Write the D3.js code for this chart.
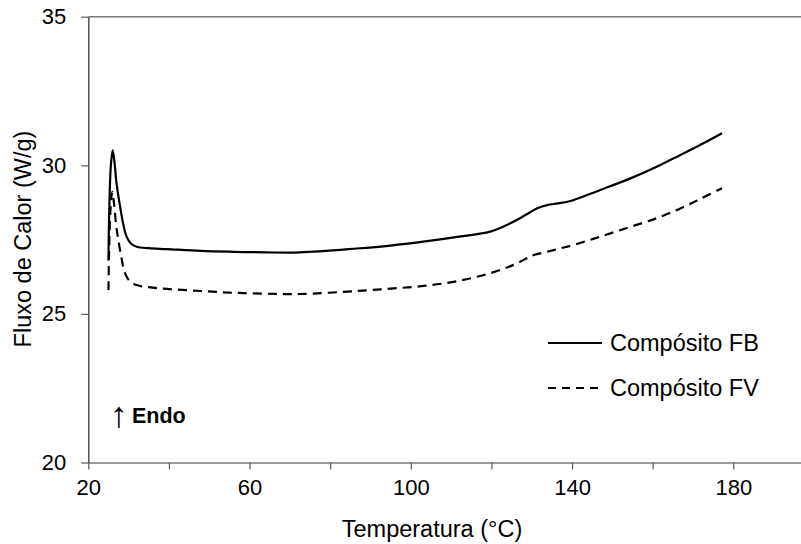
<!DOCTYPE html>
<html>
<head>
<meta charset="utf-8">
<script src="https://cdn.jsdelivr.net/npm/d3@7"></script>
<style>
  html, body { margin: 0; padding: 0; background: #fff; }
  svg { display: block; font-family: "Liberation Sans", Arial, sans-serif; }
</style>
</head>
<body>
<svg id="chart" width="801" height="544"></svg>
<script>
// ---- data ----
const tempFB = [25.0, 25.2, 25.6, 26.05, 26.5, 27.0, 27.9, 28.7, 29.5, 30.5, 32.0, 35, 39.5, 48, 56, 64, 72.5, 86.6, 95, 103.1, 112, 119.7, 124.7, 127.5, 129.6, 131.5, 133.8, 136.5, 139.6, 147, 154.5, 161, 166.9, 172, 177.2];
const fluxFB = [26.8, 28.5, 30.0, 30.5, 30.1, 29.4, 28.6, 28.0, 27.6, 27.38, 27.26, 27.21, 27.18, 27.12, 27.09, 27.07, 27.07, 27.2, 27.3, 27.43, 27.6, 27.77, 28.05, 28.25, 28.42, 28.56, 28.66, 28.72, 28.8, 29.17, 29.56, 29.95, 30.35, 30.7, 31.08];
const tempFV = [25.0, 25.15, 25.5, 25.96, 26.4, 26.9, 27.45, 28.2, 29.1, 30.3, 32.0, 35, 39.5, 48, 56, 64, 72.5, 86.6, 95, 103.1, 111.4, 119.7, 125.5, 128.8, 130.5, 133.8, 137, 140.4, 147, 154.5, 161, 166.9, 172, 177.2];
const fluxFV = [25.8, 27.0, 28.5, 29.11, 28.7, 28.0, 27.49, 26.9, 26.37, 26.1, 25.97, 25.9, 25.84, 25.77, 25.71, 25.68, 25.67, 25.77, 25.85, 25.94, 26.1, 26.37, 26.65, 26.87, 26.98, 27.09, 27.2, 27.32, 27.6, 27.93, 28.22, 28.55, 28.88, 29.23];
const seriesNames = ["Compósito FB", "Compósito FV"];
const xTicks = [20, 40, 60, 80, 100, 120, 140, 160, 180, 200];
const xTickLabels = [20, 60, 100, 140, 180];
const yTicks = [20, 25, 30, 35];
const xTitle = "Temperatura (°C)";
const yTitle = "Fluxo de Calor (W/g)";
const note = "Endo";

// ---- layout ----
const svg = d3.select("#chart");
const x = d3.scaleLinear().domain([20, 200]).range([88.3, 813.9]);
const y = d3.scaleLinear().domain([20, 35]).range([462.5, 16.7]);
const axisColor = "#5a5a5a";
const ff = "'Liberation Sans', Arial, sans-serif";

// top border line at y = 35
svg.append("line")
  .attr("x1", x(20)).attr("x2", 801)
  .attr("y1", y(35)).attr("y2", y(35))
  .attr("stroke", "#7a7a7a").attr("stroke-width", 1.4);

// x axis
const gx = svg.append("g").attr("transform", `translate(0,${y(20)})`)
  .call(d3.axisBottom(x).tickValues(xTicks).tickSize(7).tickSizeOuter(0)
    .tickFormat(d => xTickLabels.includes(d) ? d : ""));
gx.select(".domain").attr("stroke", "#7a7a7a").attr("stroke-width", 1.4);
gx.selectAll(".tick line").attr("stroke", axisColor).attr("stroke-width", 1.2);
gx.selectAll(".tick text").attr("font-size", 22).attr("fill", "#000")
  .attr("font-family", ff).attr("dy", "1.0em");

// y axis
const gy = svg.append("g").attr("transform", `translate(${x(20)},0)`)
  .call(d3.axisLeft(y).tickValues(yTicks).tickSize(7).tickSizeOuter(0).tickPadding(15));
gy.select(".domain").attr("stroke", "#444").attr("stroke-width", 1.4);
gy.selectAll(".tick line").attr("stroke", axisColor).attr("stroke-width", 1.2);
gy.selectAll(".tick text").attr("font-size", 22).attr("fill", "#000")
  .attr("font-family", ff);

// titles
svg.append("text").attr("x", 432).attr("y", 537)
  .attr("text-anchor", "middle").attr("font-size", 23.5).text(xTitle);
svg.append("text").attr("transform", "translate(31,239) rotate(-90)")
  .attr("text-anchor", "middle").attr("font-size", 23.5).text(yTitle);

// curves
const line = d3.line().x(d => x(d[0])).y(d => y(d[1])).curve(d3.curveCatmullRom.alpha(0.5));
const dataFB = tempFB.map((t, i) => [t, fluxFB[i]]);
const dataFV = tempFV.map((t, i) => [t, fluxFV[i]]);
svg.append("path").datum(dataFB).attr("d", line)
  .attr("fill", "none").attr("stroke", "#000").attr("stroke-width", 2.2);
svg.append("path").datum(dataFV).attr("d", line)
  .attr("fill", "none").attr("stroke", "#000").attr("stroke-width", 2.2)
  .attr("stroke-dasharray", "9,6");

// legend
const legY = [343, 388];
const dashes = [null, "8,6"];
seriesNames.forEach((name, i) => {
  svg.append("line").attr("x1", 548).attr("x2", 602)
    .attr("y1", legY[i]).attr("y2", legY[i])
    .attr("stroke", "#000").attr("stroke-width", 2.2)
    .attr("stroke-dasharray", dashes[i]);
  svg.append("text").attr("x", 610).attr("y", legY[i])
    .attr("dy", "0.36em").attr("font-size", 23.5).text(name);
});

// Endo annotation
svg.append("text").attr("x", 110).attr("y", 427).attr("font-size", 36)
  .attr("font-family", ff).text("↑");
svg.append("text").attr("x", 132).attr("y", 423).attr("font-size", 21.5)
  .attr("font-weight", "bold").text(note);
</script>
</body>
</html>
